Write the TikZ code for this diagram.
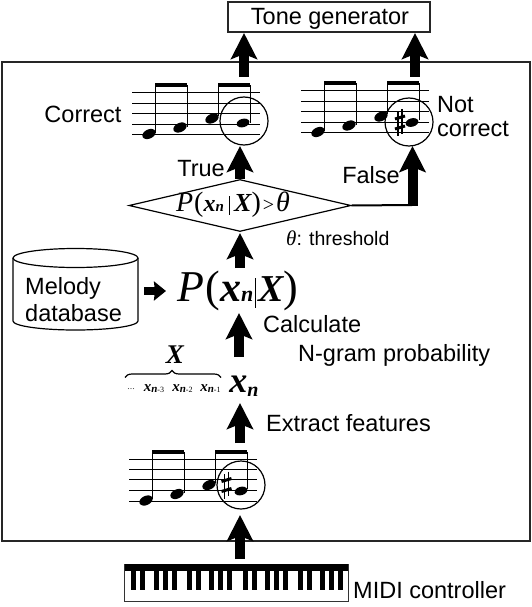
\documentclass[tikz,border=0pt]{standalone}
\usepackage{fontspec}
\setmainfont{Liberation Sans}
\newfontfamily\tms{Liberation Serif}
\usetikzlibrary{arrows.meta,shapes.geometric,calc,decorations.pathreplacing}
\tikzset{
 bigarrow/.style={draw=black,line width=10pt,-{Stealth[length=26pt,width=26pt,inset=5pt]}},
 smallarrow/.style={draw=black,line width=8pt,-{Stealth[length=12pt,width=19pt,inset=1pt]}},
 frameline/.style={draw=black!85,line width=1.4pt},
 lab/.style={inner sep=0pt,font=\fontsize{23.5}{26}\selectfont},
 staffline/.style={draw=black,line width=0.9pt},
 stem/.style={draw=black,line width=0.9pt},
 ring/.style={circle,draw=black,line width=1.2pt,minimum size=48pt,inner sep=0pt},
}
\newcommand{\bitext}[2]{{\tms\itshape\bfseries\fontsize{#1}{#1}\selectfont #2}}
% score drawn from the left end of its first staff line
\newcommand{\scorebar}[1]{%
 \begin{scope}[shift={#1}]
  \foreach \yy in {0,10.5,20.5,31.5,42}{\draw[staffline] (0,\yy) -- (128,\yy);}
  \fill[black] (23,-9.5) rectangle (55,-5);
  \fill[black] (86,-9.5) rectangle (118,-5);
  \draw[stem] (23,-7) -- (23,40); \draw[stem] (55,-7) -- (55,34);
  \draw[stem] (86,-7) -- (86,24); \draw[stem] (118,-7) -- (118,30);
  \foreach \nx/\ny in {17/41.5,48/35,80/26}{\fill[black,rotate around={25:(\nx,\ny)}] (\nx,\ny) ellipse (7pt and 4.6pt);}
 \end{scope}}
\newcommand{\sharpsign}[1]{%
 \begin{scope}[shift={#1}]
  \draw[black,line width=1.1pt] (-2,-11) -- (-2,13.5) (2,-13.5) -- (2,11);
  \draw[black,line width=3pt] (-5,-3.5) -- (5,-6.5) (-5,6.5) -- (5,3.5);
 \end{scope}}
\begin{document}
\begin{tikzpicture}[x=1pt,y=-1pt]
\useasboundingbox (0,0) rectangle (532,607);
% frame and boxes
\node[frameline,rectangle,minimum width=528pt,minimum height=479pt,inner sep=0pt] (frame) at (266,301.5) {};
\node[frameline,rectangle,fill=white,minimum width=202pt,minimum height=30pt,inner sep=0pt] (tone) at (329,17) {};
\node[lab] (tonetext) at (330,19) {Tone generator};
% scores
\scorebar{(132,92.5)}
\scorebar{(301,90.5)}
\scorebar{(129,459)}
\fill[black,rotate around={15:(243,123)}] (243,123) ellipse (6.5pt and 4.2pt);
\fill[black,rotate around={15:(412,122.5)}] (412,122.5) ellipse (6.5pt and 4.2pt);
\fill[black,rotate around={15:(241,491)}] (241,491) ellipse (6.5pt and 4.2pt);
\sharpsign{(400,122.5)}
\sharpsign{(226.5,485)}
\node[ring] (ringa) at (244,121) {};
\node[ring] (ringb) at (409,122) {};
\node[ring] (ringc) at (241,485) {};
% keyboard
\node[rectangle,draw=black!80,line width=1pt,minimum width=223.5pt,minimum height=37pt,inner sep=0pt] (keys) at (236.3,582.5) {};
\fill[black] (124.5,564) rectangle (348,571);
\foreach \kx in {133,142,156,165,174,189,198,211,220,229,245,254,267.5,276,285,300,309,322,331,340}{\fill[black] (\kx-2.5,570) rectangle (\kx+2.5,590);}
\node[lab,anchor=west] (midi) at (353,590) {MIDI controller};
% diamond and labels
\node[diamond,draw=black,line width=1.2pt,minimum width=222pt,minimum height=52pt,inner sep=0pt,aspect=4.3] (test) at (240,205.5) {};
\node[inner sep=0pt,font=\tms\fontsize{28}{28}\selectfont] (testtext) at (233,205) {\textit{P}\kern1pt(\bitext{24}{x}\bitext{15}{n}\,\raisebox{-3pt}{\rule{1pt}{19pt}}\,\bitext{26}{X})\kern2pt{\fontsize{20}{20}\selectfont >}\kern2pt{\itshape θ}};
\node[inner sep=0pt,anchor=west] (thresh) at (286,238) {{\tms\itshape\fontsize{21}{21}\selectfont θ}{\fontsize{19.5}{22}\selectfont : threshold}};
\node[lab] (correct) at (83,114) {Correct};
\node[lab,align=left,anchor=west] (notcorrect) at (437,117) {Not\\[-2pt]correct};
\node[lab] (truelab) at (201,169) {True};
\node[lab] (falselab) at (371,175) {False};
% database
\path (13,258) coordinate (dbl) (138,258) coordinate (dbr) (13,321) coordinate (dbbl) (138,321) coordinate (dbbr);
\draw[black,line width=1.2pt] (dbl) -- (dbbl) arc[start angle=180,end angle=360,x radius=62.5pt,y radius=9pt] -- (dbr);
\draw[black,line width=1.2pt] (75.5,258) ellipse (62.5pt and 9.5pt);
\node[lab,align=left,anchor=west] (db) at (25,300) {Melody\\[1pt]database};
% probability
\node[inner sep=0pt,font=\tms\fontsize{44}{44}\selectfont] (prob) at (238,291) {\textit{P}\kern1pt(\bitext{42}{x}\bitext{22}{n}\kern2pt\raisebox{-6pt}{\rule{1.2pt}{30pt}}\kern2pt\bitext{38}{X})};
\node[lab,anchor=west] (calc) at (263,324) {Calculate};
\node[lab,anchor=west] (ngram) at (298,355) {N-gram probability};
\node[lab,anchor=west] (extract) at (266,423) {Extract features};
% x_n row
\node[inner sep=0pt] (xn) at (244,386) {\bitext{36}{x}\raisebox{-4pt}{\bitext{20}{n}}};
\node[inner sep=0pt] (xa) at (154,388.5) {\bitext{15}{x}\raisebox{-1.5pt}{\bitext{11}{n}{\tms\fontsize{8}{8}\selectfont -3}}};
\node[inner sep=0pt] (xb) at (182.5,388.5) {\bitext{15}{x}\raisebox{-1.5pt}{\bitext{11}{n}{\tms\fontsize{8}{8}\selectfont -2}}};
\node[inner sep=0pt] (xc) at (210.5,388.5) {\bitext{15}{x}\raisebox{-1.5pt}{\bitext{11}{n}{\tms\fontsize{8}{8}\selectfont -1}}};
\node[inner sep=0pt,font=\tms\fontsize{10}{10}\selectfont,text=black!70] (dots) at (131,389) {...};
\node[inner sep=0pt] (xset) at (175,355) {\bitext{27}{X}};
\coordinate (bl) at (125,377.5); \coordinate (br) at (221,377.5);
\draw[black,line width=1.2pt,decorate,decoration={brace,amplitude=7pt,aspect=0.49}] (bl) -- (br);
% arrows
\coordinate (a1s) at (244,77); \coordinate (a1e) at (244,33);
\coordinate (a2s) at (415,77); \coordinate (a2e) at (415,33);
\coordinate (a3e) at (240,146);
\coordinate (a4c) at (412,205); \coordinate (a4e) at (412.5,146);
\coordinate (a5s) at (240,268); \coordinate (a5e) at (240,233);
\coordinate (a6s) at (239,357); \coordinate (a6e) at (239,313);
\coordinate (a7s) at (240,443); \coordinate (a7e) at (240,403);
\coordinate (a8s) at (240,559); \coordinate (a8e) at (240,515);
\coordinate (a9s) at (144,291); \coordinate (a9e) at (166,291);
\draw[bigarrow] (a1s) -- (a1e);
\draw[bigarrow] (a2s) -- (a2e);
\draw[bigarrow] (test.north) -- (a3e);
\draw[black,line width=2pt] (test.east) -- (a4c);
\draw[bigarrow] (412.5,206) -- (a4e);
\draw[bigarrow] (a5s) -- (a5e);
\draw[bigarrow] (a6s) -- (a6e);
\draw[bigarrow] (a7s) -- (a7e);
\draw[bigarrow] (a8s) -- (a8e);
\draw[smallarrow] (a9s) -- (a9e);
\end{tikzpicture}
\end{document}
